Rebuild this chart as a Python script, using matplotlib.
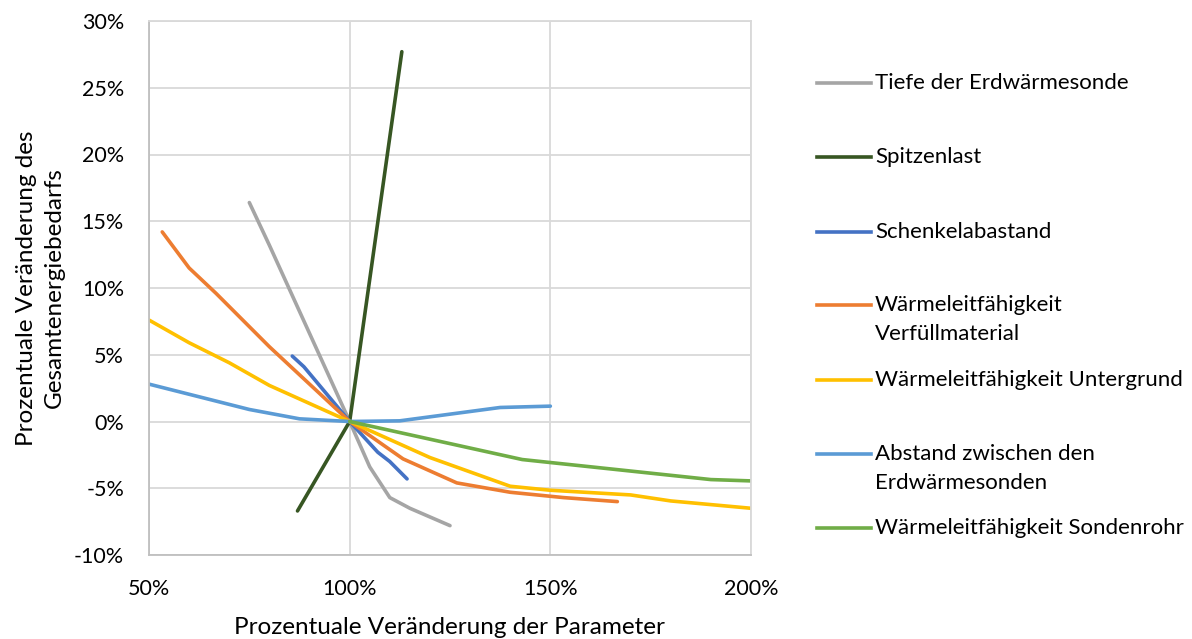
import matplotlib.pyplot as plt
from matplotlib.lines import Line2D
from matplotlib.ticker import FuncFormatter

plt.rcParams['font.family'] = ['Lato', 'DejaVu Sans']

# Prozentuale Veränderung der Parameter (x, %) / des Gesamtenergiebedarfs (y, %)
tiefe_x = [75, 80, 90, 100, 105, 110, 115, 125]
tiefe_y = [16.4, 13.2, 6.6, 0, -3.4, -5.7, -6.5, -7.8]

spitze_x = [87, 100, 113]
spitze_y = [-6.7, 0, 27.7]

schenkel_x = [85.7, 88.6, 100, 107, 110, 114.3]
schenkel_y = [4.9, 4.1, 0, -2.3, -3.0, -4.3]

verfuell_x = [53.3, 60, 66.7, 80, 100, 113.3, 126.7, 140, 153.3, 166.7]
verfuell_y = [14.2, 11.5, 9.6, 5.6, 0, -2.8, -4.6, -5.3, -5.7, -6.0]

untergrund_x = [50, 60, 70, 80, 100, 120, 140, 150, 170, 180, 200]
untergrund_y = [7.6, 5.9, 4.4, 2.7, 0, -2.7, -4.85, -5.15, -5.5, -5.95, -6.5]

abstand_x = [50, 75, 87.5, 100, 112.5, 137.5, 150]
abstand_y = [2.8, 0.9, 0.2, 0, 0.05, 1.05, 1.15]

rohr_x = [100, 143, 190, 200]
rohr_y = [0, -2.85, -4.35, -4.45]

series = [
    ("Tiefe der Erdwärmesonde", tiefe_x, tiefe_y, "#a5a5a5"),
    ("Spitzenlast", spitze_x, spitze_y, "#375623"),
    ("Schenkelabastand", schenkel_x, schenkel_y, "#4472c4"),
    ("Wärmeleitfähigkeit\nVerfüllmaterial", verfuell_x, verfuell_y, "#ed7d31"),
    ("Wärmeleitfähigkeit Untergrund", untergrund_x, untergrund_y, "#ffc000"),
    ("Abstand zwischen den\nErdwärmesonden", abstand_x, abstand_y, "#5b9bd5"),
    ("Wärmeleitfähigkeit Sondenrohr", rohr_x, rohr_y, "#70ad47"),
]

W, H = 1192, 639
fig = plt.figure(figsize=(W/100, H/100), dpi=100)
ax = fig.add_axes([149/W, 1-555/H, (751-149)/W, (555-21)/H])

for label, xs, ys, col in series:
    ax.plot(xs, ys, color=col, lw=2.6, solid_capstyle='round')

ax.set_xlim(50, 200)
ax.set_ylim(-10, 30)
ax.set_xticks([50, 100, 150, 200])
ax.set_yticks(range(-10, 31, 5))
ax.xaxis.set_major_formatter(FuncFormatter(lambda v, p: f"{v:.0f}%"))
ax.yaxis.set_major_formatter(FuncFormatter(lambda v, p: f"{v:.0f}%"))
ax.grid(True, color="#d9d9d9", lw=1.3)
ax.set_axisbelow(True)
for s in ax.spines.values():
    s.set_color("#d9d9d9")
    s.set_linewidth(1.3)
ax.spines['left'].set_color("#bfbfbf")
ax.spines['bottom'].set_color("#bfbfbf")
ax.tick_params(length=0, labelsize=15.5, colors="#000000")
ax.tick_params(axis='y', pad=18)
ax.tick_params(axis='x', pad=17)

# Achsentitel
fig.text(449/W, 1-627/H, "Prozentuale Veränderung der Parameter",
         fontsize=17.5, ha='center', va='center')
fig.text(40/W, 1-288/H, "Prozentuale Veränderung des\nGesamtenergiebedarfs",
         fontsize=17.5, ha='center', va='center', rotation=90,
         multialignment='center', linespacing=1.4)

# Legende rechts
leg_y = [83, 157, 232, 305, 380, 454, 528]
for (label, xs, ys, col), py in zip(series, leg_y):
    yf = 1 - py/H
    fig.add_artist(Line2D([817/W, 871/W], [yf, yf], color=col, lw=2.6,
                          transform=fig.transFigure))
    for i, line in enumerate(label.split("\n")):
        fig.text(875/W, 1-(py + i*29)/H, line, fontsize=16, va='center')

plt.savefig("out.png", dpi=100)
